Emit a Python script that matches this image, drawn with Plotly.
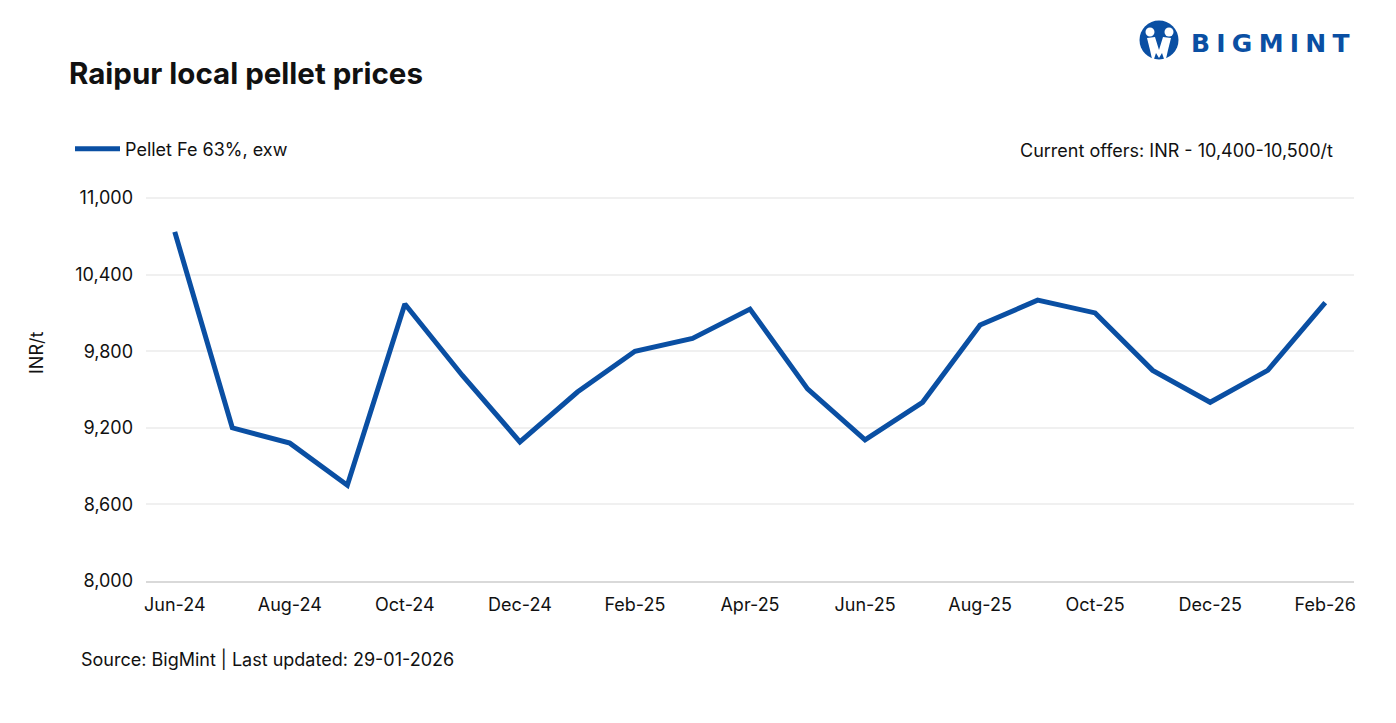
import plotly.graph_objects as go

months = ['Jun-24', 'Jul-24', 'Aug-24', 'Sep-24', 'Oct-24', 'Nov-24', 'Dec-24', 'Jan-25', 'Feb-25', 'Mar-25',
          'Apr-25', 'May-25', 'Jun-25', 'Jul-25', 'Aug-25', 'Sep-25', 'Oct-25', 'Nov-25', 'Dec-25', 'Jan-26', 'Feb-26']
prices = [10735, 9200, 9080, 8750, 10170, 9610, 9090, 9480, 9800, 9900,
          10130, 9505, 9105, 9400, 10005, 10200, 10100, 9650, 9400, 9650, 10180]
y_ticks = [8000, 8600, 9200, 9800, 10400, 11000]
x_ticks = months[::2]

BLUE = '#0a4fa3'
FONT = 'Inter'
W, H = 1396, 723
# top is 2px above the 11,000 line, plotly drops a gridline sitting right on the axis end
L, R, T, B = 146, 1354, 196, 581


# pixel position on the page -> paper coords, only for texts and the logo
def px(x):
    return (x - L) / (R - L)


def py(y):
    return (B - y) / (B - T)


def label(x, y, text, size=18, color='#111111', xanchor='left', bold=False, textangle=0, family=FONT):
    fig.add_annotation(x=px(x), y=py(y), xref='paper', yref='paper', text=f'<b>{text}</b>' if bold else text,
                       showarrow=False, xanchor=xanchor, yanchor='middle', textangle=textangle,
                       font=dict(family=family, size=size, color=color))


def dot(cx, cy, r, color):
    fig.add_shape(type='circle', xref='paper', yref='paper', x0=px(cx - r), x1=px(cx + r),
                  y0=py(cy + r), y1=py(cy - r), fillcolor=color, line_width=0, layer='above')


fig = go.Figure()
fig.add_trace(go.Scatter(x=months, y=prices, mode='lines', name='Pellet Fe 63%, exw',
                         line=dict(color=BLUE, width=5, shape='linear')))

fig.update_layout(
    width=W, height=H,
    margin=dict(l=L, r=W - R, t=T, b=H - B, pad=0),
    paper_bgcolor='white', plot_bgcolor='white',
    font=dict(family=FONT, size=18, color='#111111'),
    showlegend=True,
    legend=dict(x=px(70), y=py(149), xanchor='left', yanchor='middle', orientation='h', itemwidth=45,
                bgcolor='rgba(0,0,0,0)', font=dict(size=18, family=FONT, color='#111111')),
    hovermode=False,
)
fig.update_xaxes(type='category', categoryorder='array', categoryarray=months, range=[-0.5, 20.5],
                 tickmode='array', tickvals=x_ticks, ticktext=x_ticks, showgrid=False, ticks='',
                 showline=True, linecolor='#d9d9d9', linewidth=2, tickfont=dict(size=18), ticklabelstandoff=6)
fig.update_yaxes(range=[8000, 11016], tickmode='array', tickvals=y_ticks, tickformat=',', showgrid=True,
                 gridcolor='#f0f0f0', gridwidth=2, ticks='', showline=False, zeroline=False, tickfont=dict(size=18),
                 ticklabelstandoff=12)

label(67, 73, 'Raipur local pellet prices', size=29.5, bold=True)
label(1335, 150, 'Current offers: INR - 10,400-10,500/t', xanchor='right')
label(36, 353, 'INR/t', xanchor='center', textangle=-90)
label(79, 659, 'Source: BigMint | Last updated: 29-01-2026')

# logo
dot(1159, 40, 19.5, BLUE)
dot(1150, 32, 4.5, 'white')
dot(1169, 32, 4.5, 'white')
fig.add_shape(type='path', xref='paper', yref='paper', fillcolor='white', line_width=0, layer='above',
              path=' '.join(f'{c} {px(x)} {py(y)}' for c, x, y in [
                  ('M', 1147, 38), ('L', 1155, 37), ('L', 1159, 50), ('L', 1163, 37), ('L', 1171, 38), ('L', 1168, 50),
                  ('L', 1166, 59), ('L', 1164, 59), ('L', 1162, 53), ('L', 1159, 58), ('L', 1156, 53), ('L', 1154, 59),
                  ('L', 1152, 59), ('L', 1150, 50)]) + ' Z')
label(1189, 43, '\u2005'.join('BIGMINT'), size=25, color=BLUE, bold=True, family='DejaVu Sans')

fig.write_html("out.html", post_script="document.body.style.margin='0';", config={'displayModeBar': False})
